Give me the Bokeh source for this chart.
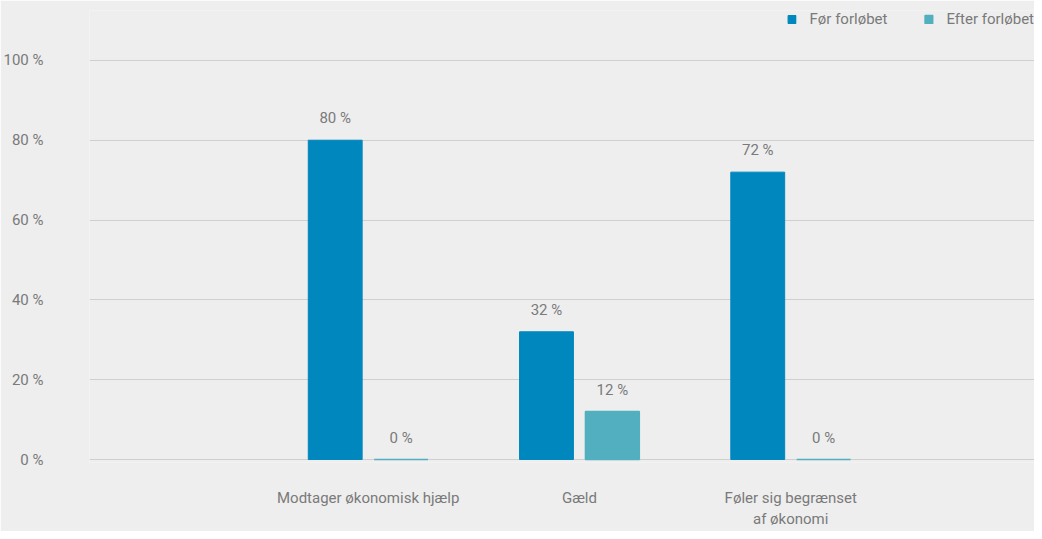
import numpy as np
from bokeh.plotting import figure
from bokeh.models import ColumnDataSource, FixedTicker, PrintfTickFormatter, Legend, LegendItem
from bokeh.transform import dodge
from bokeh.core.properties import value
from bokeh.embed import file_html
from bokeh.resources import INLINE

categories = ["Modtager økonomisk hjælp", "Gæld", "Føler sig begrænset\naf økonomi"]
series_names = ["Før forløbet", "Efter forløbet"]
foer = [80, 32, 72]
efter = [0, 12, 0]
y_ticks = [0, 20, 40, 60, 80, 100]

FONT = "Roboto"
FS = "15px"
TXT = "#7a7a7a"
BG = "#eeeeee"
C1 = "#0087be"
C2 = "#52afbf"

xs = list(range(1, len(categories) + 1))
src = ColumnDataSource(dict(
    x=xs, foer=foer, efter=efter,
    foer_lbl=[f"{v} %" for v in foer],
    efter_lbl=[f"{v} %" for v in efter],
))

p = figure(width=1034, height=531, output_backend="svg", toolbar_location=None,
           x_range=(-0.319, 4.154), y_range=(-0.75, 112.5),
           min_border_left=88, min_border_right=0, min_border_top=10, min_border_bottom=68)
p.background_fill_color = BG
p.border_fill_color = BG
p.outline_line_color = None

off = 0.156
w = 0.255
r1 = p.vbar(x=dodge("x", -off), top="foer", bottom=0, width=w, source=src,
            fill_color=C1, line_color=C1, line_width=1)
r2 = p.vbar(x=dodge("x", off), top="efter", bottom=0, width=w, source=src,
            fill_color=C2, line_color=C2, line_width=1.5)

for col, lbl, d in (("foer", "foer_lbl", -off), ("efter", "efter_lbl", off)):
    p.text(x=dodge("x", d), y=col, text=lbl, source=src, text_align="center",
           text_baseline="alphabetic", y_offset=-22, text_color=TXT,
           text_font=value(FONT), text_font_size=FS)

p.xgrid.grid_line_color = None
p.ygrid.grid_line_color = "#cfcfcf"
p.ygrid.grid_line_width = 1

p.yaxis.ticker = FixedTicker(ticks=y_ticks)
p.yaxis.formatter = PrintfTickFormatter(format="%d %%")
p.xaxis.ticker = FixedTicker(ticks=xs)
p.xaxis.major_label_overrides = {x: c for x, c in zip(xs, categories)}

for ax in (p.xaxis[0], p.yaxis[0]):
    ax.axis_line_color = None
    ax.major_tick_line_color = None
    ax.minor_tick_line_color = None
    ax.major_label_text_color = TXT
    ax.major_label_text_font = FONT
    ax.major_label_text_font_size = FS
p.yaxis.major_label_standoff = 40
p.xaxis.major_label_standoff = 20

legend = Legend(items=[LegendItem(label=series_names[0], renderers=[r1]),
                       LegendItem(label=series_names[1], renderers=[r2])],
                location="top_right", orientation="horizontal",
                background_fill_alpha=0, border_line_color=None,
                label_text_color=TXT, label_text_font=FONT, label_text_font_size=FS,
                glyph_width=10, glyph_height=10, label_standoff=13, spacing=36,
                padding=0, margin=0)
p.add_layout(legend)

open("out.html", "w").write(file_html(p, INLINE))
